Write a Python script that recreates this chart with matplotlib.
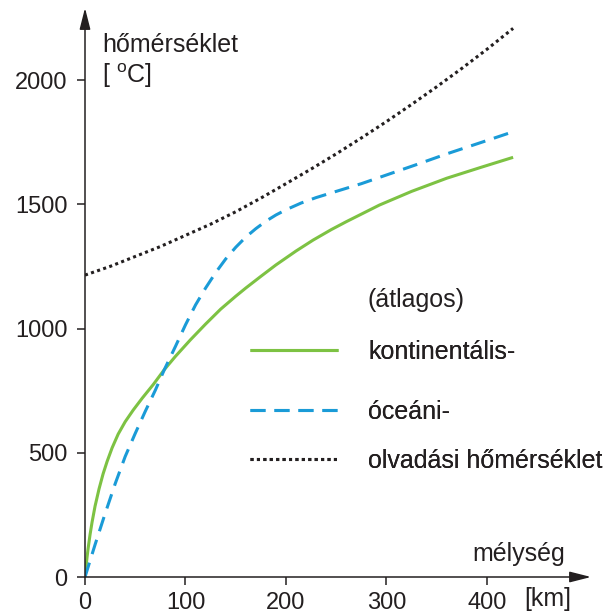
import matplotlib
matplotlib.use("Agg")
import matplotlib.pyplot as plt

plt.rcParams['font.family'] = ['Liberation Sans', 'DejaVu Sans']
plt.rcParams['mathtext.fontset'] = 'custom'
plt.rcParams['mathtext.rm'] = 'Liberation Sans'

# ---------------- data ----------------
depth_cont = [0, 1, 2, 3, 5, 7, 10, 14, 18, 22, 27, 33, 40, 48, 57, 68, 79, 90,
              105, 120, 135, 150, 160, 175, 190, 210, 227, 245, 260, 293, 325,
              360, 395, 426]
temp_cont = [0, 40, 78, 112, 170, 220, 285, 355, 415, 465, 520, 575, 625, 672,
             720, 775, 835, 888, 955, 1018, 1078, 1130, 1163, 1210, 1256, 1312,
             1356, 1398, 1430, 1497, 1552, 1605, 1650, 1689]

depth_ocean = [0, 10, 20, 30, 40, 50, 60, 70, 79, 90, 100, 110, 120, 130, 140,
               150, 160, 170, 180, 190, 200, 215, 230, 250, 275, 300, 330, 360,
               395, 426]
temp_ocean = [0, 130, 255, 375, 485, 578, 667, 752, 835, 928, 1015, 1095, 1163,
              1225, 1280, 1327, 1368, 1402, 1432, 1457, 1478, 1505, 1527, 1552,
              1583, 1618, 1660, 1703, 1750, 1792]

depth_melt = [0, 25, 50, 75, 100, 125, 150, 175, 200, 225, 250, 275, 300, 325,
              350, 375, 400, 426]
temp_melt = [1215, 1250, 1290, 1330, 1375, 1420, 1470, 1525, 1583, 1642, 1703,
             1767, 1833, 1902, 1973, 2047, 2124, 2208]

x_ticks = [0, 100, 200, 300, 400]
y_ticks = [0, 500, 1000, 1500, 2000]

lbl_cont = "kontinentális-"
lbl_ocean = "óceáni-"
lbl_melt = "olvadási hőmérséklet"
lbl_avg = "(átlagos)"
lbl_y1 = "hőmérséklet"
lbl_y2 = r"[ $^{\mathrm{o}}$C]"
lbl_x = "mélység"
lbl_xu = "[km]"

# ---------------- style ----------------
DARK = '#231f20'
GREEN = '#7dc243'
BLUE = '#1a9bd7'
FS = 18
FS_TICK = 17
W, H = 605, 613

def fx(x):
    return x / W

def fy(y):
    return 1 - y / H

fig = plt.figure(figsize=(W / 100, H / 100), dpi=100)
ax = fig.add_axes([fx(85), fy(577), (591 - 85) / W, (577 - 8) / H])
ax.set_xlim(0, 503.5)
ax.set_ylim(0, 2290)

for s in ax.spines.values():
    s.set_visible(False)

ax.set_xticks(x_ticks)
ax.set_yticks(y_ticks)
ax.tick_params(axis='both', direction='out', length=6, width=1.1, color=DARK,
               labelsize=FS_TICK, labelcolor=DARK)
ax.tick_params(axis='y', pad=6.5)
ax.tick_params(axis='x', pad=5)

arrow = dict(arrowstyle='-|>,head_length=1.3,head_width=0.33', lw=1.1,
             color=DARK, shrinkA=0, shrinkB=0)
ax.annotate('', xy=(1, 0), xytext=(0, 0), xycoords='axes fraction',
            textcoords='axes fraction', arrowprops=arrow, annotation_clip=False)
ax.annotate('', xy=(0, 1), xytext=(0, 0), xycoords='axes fraction',
            textcoords='axes fraction', arrowprops=arrow, annotation_clip=False)

lw = 2.2
l_cont, = ax.plot(depth_cont, temp_cont, color=GREEN, lw=lw,
                  solid_capstyle='butt', solid_joinstyle='round')
l_ocean, = ax.plot(depth_ocean, temp_ocean, color=BLUE, lw=lw,
                   linestyle=(0, (4.9, 2.95)))
l_melt, = ax.plot(depth_melt, temp_melt, color=DARK, lw=lw,
                  linestyle=(0, (1.0, 1.1)))

# axis texts
fig.text(fx(102), fy(52), lbl_y1, fontsize=FS, color=DARK, va='baseline', ha='left')
fig.text(fx(102), fy(83), lbl_y2, fontsize=FS, color=DARK, va='baseline', ha='left')
fig.text(fx(472), fy(561), lbl_x, fontsize=FS, color=DARK, va='baseline', ha='left')
fig.text(fx(524), fy(606), lbl_xu, fontsize=FS, color=DARK, va='baseline', ha='left')

# legend
fig.text(fx(368), fy(300), lbl_avg, fontsize=FS, color=DARK, va='center', ha='left')
fs_px = FS * 100 / 72
rows = [(l_cont, lbl_cont, 352), (l_ocean, lbl_ocean, 412), (l_melt, lbl_melt, 461)]
for handle, label, ypx in rows:
    leg = fig.legend([handle], [label], loc='center left',
                     bbox_to_anchor=(fx(250), fy(ypx)), frameon=False,
                     fontsize=FS, handlelength=88 / fs_px, handletextpad=30 / fs_px,
                     borderpad=0, borderaxespad=0, labelcolor=DARK)
    fig.add_artist(leg)

fig.savefig('out.png', dpi=100)
